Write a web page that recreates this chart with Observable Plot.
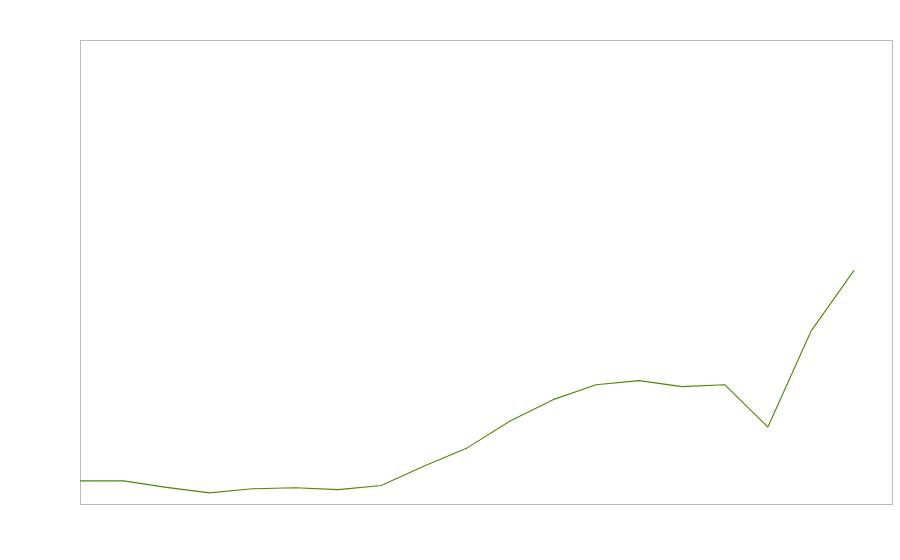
<!DOCTYPE html>
<html>
<head>
<meta charset="utf-8">
<script src="https://cdn.jsdelivr.net/npm/d3@7"></script>
<script src="https://cdn.jsdelivr.net/npm/@observablehq/plot@0.6"></script>
<style>
  html, body { margin: 0; padding: 0; background: #fff; }
  #chart svg { display: block; }
</style>
</head>
<body>
<div id="chart"></div>
<script>
const periods = [0, 1, 2, 3, 4, 5, 6, 7, 8, 9, 10, 11, 12, 13, 14, 15, 16, 17, 18];
const values = [5.1, 5.1, 3.7, 2.5, 3.4, 3.6, 3.2, 4.1, 8.3, 12.2, 18.0, 22.6, 25.8, 26.7, 25.4, 25.8, 16.7, 37.3, 50.4];

const data = periods.map((p, i) => ({x: p, y: values[i]}));

const chart = Plot.plot({
  width: 900,
  height: 560,
  marginLeft: 80,
  marginRight: 8,
  marginTop: 40,
  marginBottom: 56,
  x: {domain: [0, 18.9], axis: null},
  y: {domain: [0, 100], axis: null},
  marks: [
    Plot.frame({stroke: "#bbb", strokeWidth: 1}),
    Plot.line(data, {x: "x", y: "y", stroke: "#4c8a00", strokeWidth: 1.1})
  ]
});
document.getElementById("chart").appendChild(chart);
</script>
</body>
</html>
